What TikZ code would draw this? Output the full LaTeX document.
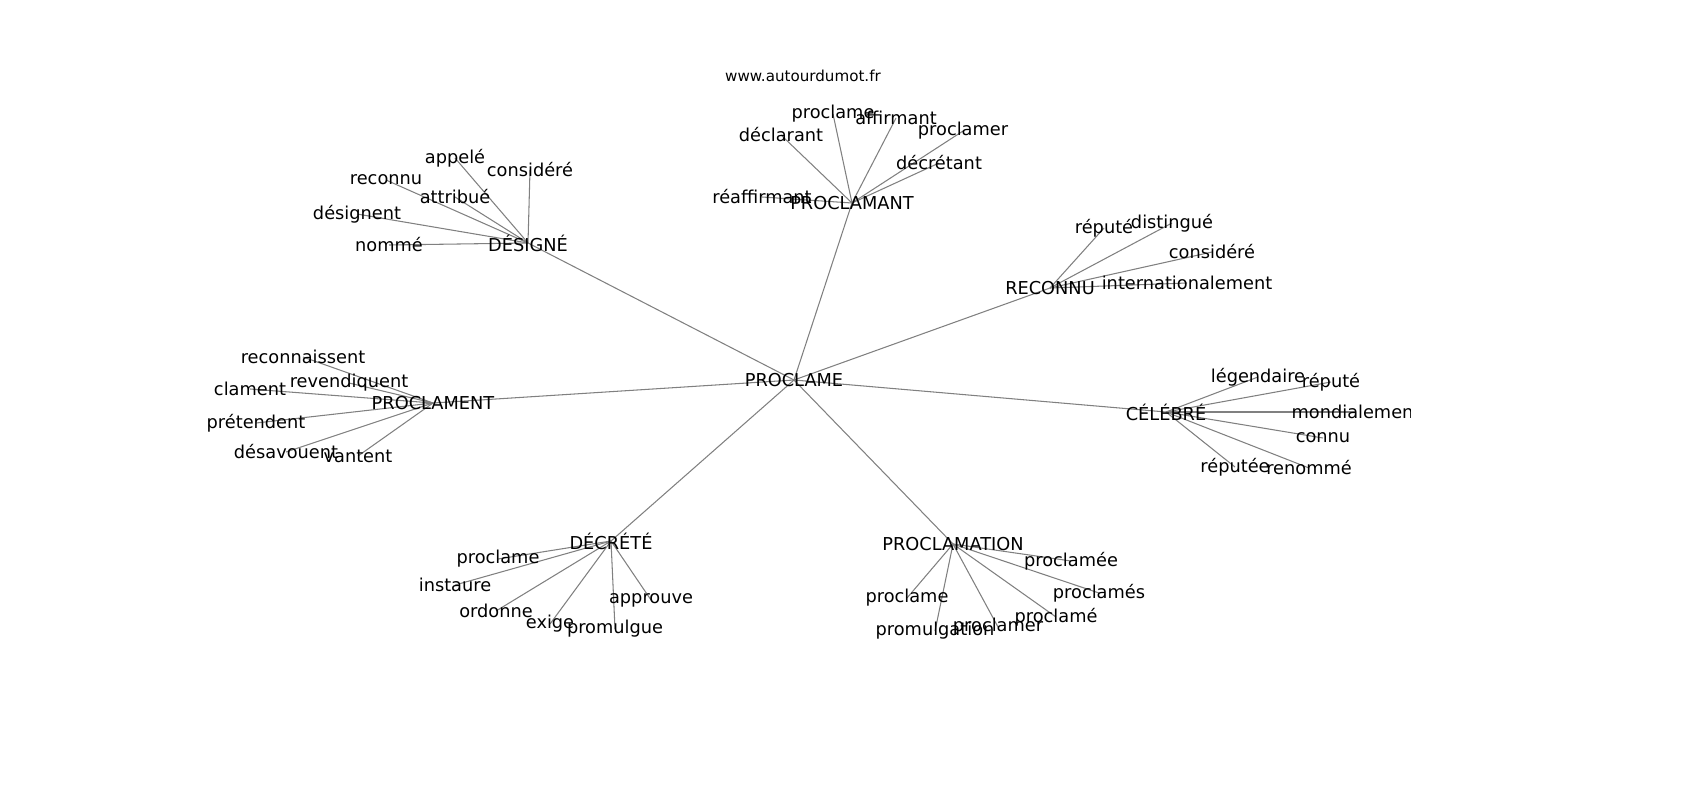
\documentclass[tikz,border=0pt]{standalone}
\usepackage{fontspec}
\setmainfont{DejaVu Sans}
\usepackage{tikz}

\pgfdeclarelayer{bg}
\pgfsetlayers{bg,main}

\tikzset{
  word/.style={inner sep=0pt, font=\fontsize{5.05pt}{6pt}\selectfont},
  link/.style={draw=gray, line width=0.3pt}
}

\begin{document}
\begin{tikzpicture}[x=0.01cm, y=-0.01cm]
\useasboundingbox (0,0) rectangle (1700,800);

\node[inner sep=0pt, font=\fontsize{4.3pt}{5pt}\selectfont] (site) at (803,76) {www.autourdumot.fr};

% centre
\node[word] (pro) at (794,380) {PROCLAME};

% PROCLAMANT
\node[word] (pcm) at (852,203) {PROCLAMANT};
\node[word] (pcm1) at (833,114) {proclame};
\node[word] (pcm2) at (896,118) {affirmant};
\node[word] (pcm3) at (781,135) {déclarant};
\node[word] (pcm4) at (963,131) {proclamer};
\node[word] (pcm5) at (939,163) {décrétant};
\node[word] (pcm6) at (762,197) {réaffirmant};

% DÉSIGNÉ
\node[word] (des) at (528,243) {DÉSIGNÉ};
\node[word] (des1) at (455,158) {appelé};
\node[word] (des2) at (530,170) {considéré};
\node[word] (des3) at (386,180) {reconnu};
\node[word] (des4) at (455,197) {attribué};
\node[word] (des5) at (357,214) {désignent};
\node[word] (des6) at (389,245) {nommé};

% RECONNU
\node[word] (rec) at (1050,288) {RECONNU};
\node[word] (rec1) at (1104,228) {réputé};
\node[word] (rec2) at (1172,223) {distingué};
\node[word] (rec3) at (1212,252) {considéré};
\node[word] (rec4) at (1187,283) {internationalement};

% PROCLAMENT
\node[word] (pct) at (433,403) {PROCLAMENT};
\node[word] (pct1) at (303,357) {reconnaissent};
\node[word] (pct2) at (349,383) {revendiquent};
\node[word] (pct3) at (250,389) {clament};
\node[word] (pct4) at (256,423) {prétendent};
\node[word] (pct5) at (286,452) {désavouent};
\node[word] (pct6) at (358,456) {vantent};

% CÉLÉBRÉ
\node[word] (cel) at (1166,412) {CÉLÉBRÉ};
\node[word] (cel1) at (1258,377) {légendaire};
\node[word] (cel2) at (1331,382) {réputé};
\begin{scope}
\clip (0,0) rectangle (1410,800);
\node[word] (cel3) at (1356,412) {mondialement};
\end{scope}
\node[word] (cel4) at (1323,438) {connu};
\node[word] (cel5) at (1235,467) {réputée};
\node[word] (cel6) at (1309,468) {renommé};

% DÉCRÉTÉ
\node[word] (dec) at (611,541) {DÉCRÉTÉ};
\node[word] (dec1) at (498,559) {proclame};
\node[word] (dec2) at (455,585) {instaure};
\node[word] (dec3) at (496,611) {ordonne};
\node[word] (dec4) at (550,624) {exige};
\node[word] (dec5) at (615,629) {promulgue};
\node[word] (dec6) at (651,600) {approuve};

% PROCLAMATION
\node[word] (pcn) at (953,544) {PROCLAMATION};
\node[word] (pcn1) at (1071,561) {proclamée};
\node[word] (pcn2) at (1099,593) {proclamés};
\node[word] (pcn3) at (907,598) {proclame};
\node[word] (pcn4) at (935,631) {promulgation};
\node[word] (pcn5) at (998,627) {proclamer};
\node[word] (pcn6) at (1056,617) {proclamé};

\begin{pgfonlayer}{bg}
\foreach \h in {pcm,des,rec,pct,cel,dec,pcn}
  \draw[link] (pro.center) edge (\h.center);
\foreach \h/\n in {pcm/6,des/6,rec/4,pct/6,cel/6,dec/6,pcn/6}
  \foreach \i in {1,...,\n}
    \draw[link] (\h.center) edge (\h\i.center);
\end{pgfonlayer}
\end{tikzpicture}
\end{document}
